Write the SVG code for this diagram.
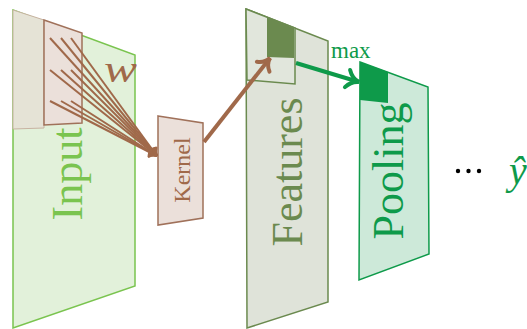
<svg xmlns="http://www.w3.org/2000/svg" width="527" height="329" viewBox="0 0 527 329">
  <style>
    text { font-family: "Liberation Serif", "DejaVu Serif", serif; }
    .input-plane { fill: #e2f1da; stroke: #7ac44f; stroke-width: 1.5; }
    .kern-fill { fill: #ebe0da; stroke: #a0715a; stroke-width: 1.5; }
    .feat-plane { fill: #dfe3d9; stroke: #6b8a4f; stroke-width: 1.5; }
    .pool-plane { fill: #cde9d9; stroke: #0e9a4a; stroke-width: 1.5; }
    .wline { stroke: #a0694a; stroke-width: 2; fill: none; }
  </style>
  <defs>
    <marker id="tipThin" markerUnits="userSpaceOnUse" viewBox="-9 -7 11 14" refX="0" refY="0" markerWidth="11" markerHeight="14" orient="auto" overflow="visible">
      <path d="M-7,-4.5 C-5,-1.5 -2,-0.4 0,0 C-2,0.4 -5,1.5 -7,4.5" fill="none" stroke="#a0694a" stroke-width="2" stroke-linecap="round"/>
    </marker>
    <marker id="tipBrown" markerUnits="userSpaceOnUse" viewBox="-14 -10 16 20" refX="0" refY="0" markerWidth="16" markerHeight="20" orient="auto" overflow="visible">
      <path d="M-11,-8 C-8,-2.5 -3.5,-0.6 0,0 C-3.5,0.6 -8,2.5 -11,8" fill="none" stroke="#a0694a" stroke-width="4" stroke-linecap="round"/>
    </marker>
    <marker id="tipGreen" markerUnits="userSpaceOnUse" viewBox="-14 -10 16 20" refX="0" refY="0" markerWidth="16" markerHeight="20" orient="auto" overflow="visible">
      <path d="M-12,-9 C-8.5,-3 -3.5,-0.6 0,0 C-3.5,0.6 -8.5,3 -12,9" fill="none" stroke="#0e9a4a" stroke-width="4" stroke-linecap="round"/>
    </marker>
  </defs>

  <!-- input layer with receptive field patch -->
  <g id="input">
    <polygon class="input-plane" points="13,10 135,55 135,286 13,328"/>
    <text transform="translate(82,174) rotate(-90)" text-anchor="middle" font-size="44" fill="#7ac44f">Input</text>
    <polygon points="13,10 44,20 44,128 13,129" fill="#e5e3d6" stroke="#c8b3a2" stroke-width="1"/>
    <polygon class="kern-fill" points="44,20 82,33 82,123 44,125"/>
  </g>

  <!-- weight label -->
  <g id="weight">
    <text transform="translate(104,82) scale(1.3,1)" font-size="38" font-style="italic" fill="#a0694a">w</text>
  </g>

  <!-- kernel -->
  <g id="kernel">
    <polygon class="kern-fill" points="158,116 203,123 203,218 158,225"/>
    <text transform="translate(190,170) rotate(-90)" text-anchor="middle" font-size="24" fill="#a0694a">Kernel</text>
  </g>

  <!-- feature map -->
  <g id="features">
    <polygon class="feat-plane" points="246,9 328,41 328,302 247,328"/>
    <polygon points="246,9 295,28 295,84 247,80" fill="#e1e6dc" stroke="#6b8a4f" stroke-width="1.5"/>
    <polygon points="267,17 294,28 294,58 267,57" fill="#6b8a4f"/>
    <text transform="translate(302,172) rotate(-90)" text-anchor="middle" font-size="44" fill="#6b8a4f">Features</text>
  </g>

  <!-- pooling layer -->
  <g id="pooling">
    <polygon class="pool-plane" points="360,62 428,87 429,254 359,280"/>
    <polygon points="360,62 388,72 388,103 360,100" fill="#0e9a4a"/>
    <text transform="translate(403,171) rotate(-90)" text-anchor="middle" font-size="44" fill="#0e9a4a">Pooling</text>
  </g>

  <!-- max label -->
  <g id="max-label">
    <text x="331" y="58" font-size="23" fill="#0e9a4a">max</text>
  </g>

  <!-- ellipsis and output -->
  <g id="ellipsis">
    <circle cx="458" cy="171" r="2.2" fill="#000"/>
    <circle cx="468.5" cy="171" r="2.2" fill="#000"/>
    <circle cx="479" cy="171" r="2.2" fill="#000"/>
  </g>
  <g id="output">
    <text x="509" y="184" font-size="40" font-style="italic" fill="#0e9a4a">ŷ</text>
  </g>

  <!-- connectors -->
  <g id="connectors">
    <line class="wline" x1="50" y1="38" x2="157" y2="156" marker-end="url(#tipThin)"/>
    <line class="wline" x1="61" y1="38" x2="157" y2="156" marker-end="url(#tipThin)"/>
    <line class="wline" x1="71" y1="38" x2="157" y2="156" marker-end="url(#tipThin)"/>
    <line class="wline" x1="50" y1="70" x2="157" y2="156" marker-end="url(#tipThin)"/>
    <line class="wline" x1="61" y1="70" x2="157" y2="156" marker-end="url(#tipThin)"/>
    <line class="wline" x1="71" y1="70" x2="157" y2="156" marker-end="url(#tipThin)"/>
    <line class="wline" x1="50" y1="101" x2="157" y2="156" marker-end="url(#tipThin)"/>
    <line class="wline" x1="61" y1="101" x2="157" y2="156" marker-end="url(#tipThin)"/>
    <line class="wline" x1="71" y1="101" x2="157" y2="156" marker-end="url(#tipThin)"/>
    <line x1="204" y1="142" x2="270" y2="58" stroke="#a0694a" stroke-width="4" marker-end="url(#tipBrown)"/>
    <line x1="296" y1="63" x2="359" y2="82" stroke="#0e9a4a" stroke-width="4" marker-end="url(#tipGreen)"/>
  </g>
</svg>
